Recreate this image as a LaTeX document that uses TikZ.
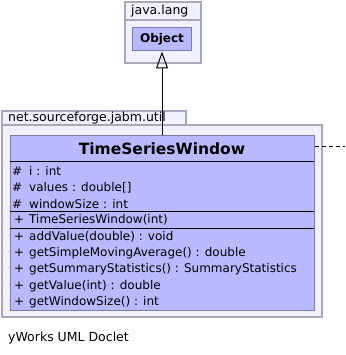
\documentclass[tikz,border=0pt]{standalone}
\usepackage{fontspec}
\setmainfont{DejaVu Sans}
\usetikzlibrary{arrows.meta,positioning}
\definecolor{umlfill}{HTML}{B9B9FF}
\definecolor{umlborder}{HTML}{7C7CA4}
\definecolor{pkgfill}{HTML}{F0F0FF}
\definecolor{pkgborder}{HTML}{A8A8B8}
% one member row: visibility mark, then the signature
\newcommand\umlrow[2]{\makebox[17pt][l]{#1}#2}
\tikzset{
  pkgbox/.style={draw=pkgborder,fill=pkgfill,line width=1.1pt},
  pkglabel/.style={anchor=west,inner sep=0pt,font=\fontsize{12.5}{14}\selectfont},
  classbox/.style={rectangle,draw=umlborder,fill=umlfill,line width=1pt,inner sep=0pt},
  classname/.style={inner sep=0pt,font=\fontsize{15.5}{18}\selectfont\bfseries},
  members/.style={anchor=west,align=left,inner sep=0pt,font=\fontsize{12}{16.2}\selectfont},
  divider/.style={draw=black,line width=1pt},
  inherit/.style={-{Triangle[open,length=17pt,width=12pt]},line width=1pt,fill=white},
  realize/.style={dash pattern=on 4pt off 3pt,line width=1pt}
}

\begin{document}
\begin{tikzpicture}[x=1pt,y=-1pt]
\useasboundingbox[fill=white] (0,0) rectangle (345,355);
% package java.lang
\draw[pkgbox] (125,2) rectangle (201,20);
\draw[pkgbox] (125,20) rectangle (201,63);
\node[pkglabel] (lang) at (131,11) {java.lang};
\node[classbox,minimum width=59pt,minimum height=23pt,font=\fontsize{12}{14}\selectfont\bfseries] (obj) at (162,39.5) {Object};
% package net.sourceforge.jabm.util
\draw[pkgbox] (2,111) rectangle (186,125);
\draw[pkgbox] (2,125) rectangle (322,317);
\node[pkglabel] (util) at (8,118) {net.sourceforge.jabm.util};
\node[classbox,minimum width=304pt,minimum height=174pt] (tsw) at (162,223) {};
\node[classname] (title) at (162,149) {TimeSeriesWindow};
\draw[divider] (10,162) -- (314,162);
\draw[divider] (10,211) -- (314,211);
\draw[divider] (10,228) -- (314,228);
\node[members] (attrs) at (12,187.5) {\umlrow{\#}{i : int}\\\umlrow{\#}{values : double[]}\\\umlrow{\#}{windowSize : int}};
\node[members] (ctor) at (14,220) {\umlrow{+}{\hspace{-2pt}TimeSeriesWindow(int)}};
\node[members] (ops) at (14,269.5) {\umlrow{+}{\hspace{-2pt}addValue(double) : void}\\\umlrow{+}{\hspace{-2pt}getSimpleMovingAverage() : double}\\\umlrow{+}{\hspace{-2pt}getSummaryStatistics() : SummaryStatistics}\\\umlrow{+}{\hspace{-2pt}getValue(int) : double}\\\umlrow{+}{\hspace{-2pt}getWindowSize() : int}};
% connectors
\coordinate (iface) at (345,147);
\draw[inherit] (tsw.north) -- (obj.south);
\draw[realize] (tsw.east |- iface) -- (iface);
\node[pkglabel] (doclet) at (8,338) {yWorks UML Doclet};
\end{tikzpicture}
\end{document}
